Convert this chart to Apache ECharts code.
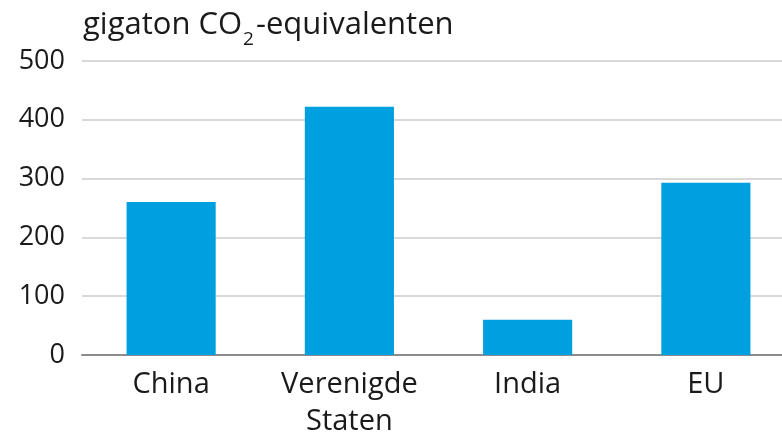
<!DOCTYPE html>
<html><head><meta charset="utf-8">
<script src="https://cdn.jsdelivr.net/npm/echarts@6/dist/echarts.min.js"></script>
<style>html,body{margin:0;padding:0;background:#fff;overflow:hidden;width:782px;height:440px}#c{width:795px;height:440px}</style>
</head><body><div id="c"></div>
<script>
const categories = ["China", "Verenigde\nStaten", "India", "EU"];
const values = [260, 422, 60, 293];
const yTicks = [0, 100, 200, 300, 400, 500];
const unitTitle = "gigaton CO";

const chart = echarts.init(document.getElementById('c'), null, {renderer: 'canvas'});
chart.setOption({
  animation: false,
  textStyle: {fontFamily: "Open Sans"},
  title: {
    text: "{a|" + unitTitle + "}{s|2}{a|-equivalenten}",
    left: 78, top: 5,
    padding: 5,
    textStyle: {
      fontSize: 31, fontWeight: "normal", fontFamily: "Open Sans", color: "#1a1a1a",
      rich: {
        a: {fontFamily: "Open Sans", fontSize: 31, fontWeight: "normal", color: "#1a1a1a", verticalAlign: "top", lineHeight: 38},
        s: {fontFamily: "Open Sans", fontSize: 19, fontWeight: "normal", color: "#1a1a1a", verticalAlign: "top", lineHeight: 19, padding: [20, 2, 0, 1]}
      }
    }
  },
  grid: {left: 82, top: 61, right: 0, bottom: 83, containLabel: false},
  xAxis: {
    type: "category",
    data: categories,
    axisLine: {lineStyle: {color: "#8c8c8c", width: 2}},
    axisTick: {show: false},
    axisLabel: {fontFamily: "Open Sans", fontSize: 29, color: "#1a1a1a", margin: 11, lineHeight: 37, interval: 0}
  },
  yAxis: {
    type: "value",
    min: yTicks[0], max: yTicks[yTicks.length - 1], interval: 100,
    axisLine: {show: false},
    axisTick: {show: false},
    splitLine: {lineStyle: {color: "#d9d9d9", width: 2}},
    axisLabel: {fontFamily: "Open Sans", fontSize: 27, color: "#1a1a1a", margin: 17}
  },
  series: [{
    type: "bar",
    data: values,
    barWidth: "50%",
    itemStyle: {color: "#009fe0"}
  }]
});
</script></body></html>
